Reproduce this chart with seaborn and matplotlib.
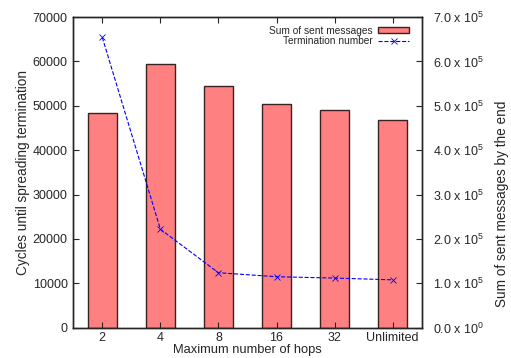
import matplotlib
matplotlib.use('Agg')
import matplotlib.pyplot as plt
import seaborn as sns
import pandas as pd

# Data
hops = ['2', '4', '8', '16', '32', 'Unlimited']
sent_messages = [483000, 594000, 544000, 505000, 490000, 467000]  # right axis
termination = [65400, 22200, 12400, 11500, 11200, 10800]  # left axis

sns.set_style('ticks')
plt.rcParams['font.family'] = ['Liberation Sans', 'DejaVu Sans']
plt.rcParams['mathtext.default'] = 'regular'
plt.rcParams['font.size'] = 9

df = pd.DataFrame({'hops': hops, 'sent': sent_messages, 'term': termination})

fig = plt.figure(figsize=(5.11, 3.58), dpi=100)
ax = fig.add_axes([0.1434, 0.0844, 0.6818, 0.8681])
ax2 = ax.twinx()

# bars on the right axis
sns.barplot(data=df, x='hops', y='sent', ax=ax2, color='#ff8080', saturation=1,
            width=0.5, edgecolor='#3a2222', linewidth=1.0)
ax2.set_ylim(0, 700000)
ax2.set_yticks([i * 100000 for i in range(8)])
ax2.set_yticklabels(['0.0 x 10$^{0}$'] + [f'{i}.0 x 10$^{{5}}$' for i in range(1, 8)])
ax2.set_ylabel('Sum of sent messages by the end', fontsize=9.8, labelpad=8)
ax2.yaxis.label.set_y(0.40)

# line on the left axis, drawn above the bars
ax.set_zorder(ax2.get_zorder() + 1)
ax.patch.set_visible(False)
sns.pointplot(data=df, x='hops', y='term', ax=ax, color='blue', markers='x',
              linestyles='--', linewidth=0.8, markersize=4)
ax.set_ylim(0, 70000)
ax.set_yticks(range(0, 70001, 10000))
ax.set_xlim(-0.5, 5.5)
ax.set_xlabel('Maximum number of hops', fontsize=9.3, labelpad=0)
ax.set_ylabel('Cycles until spreading termination', fontsize=9.8, labelpad=2)

for a in (ax, ax2):
    a.tick_params(direction='in', length=4, width=0.8, labelsize=9)
    for s in a.spines.values():
        s.set_linewidth(1.0)
ax.tick_params(top=True)
ax.tick_params(axis='y', pad=4)
ax.tick_params(axis='x', pad=3)
ax2.tick_params(axis='y', pad=8)

for a in (ax, ax2):
    if a.get_legend() is not None:
        a.get_legend().remove()

handles = [ax2.patches[0], ax.lines[0]]
labels = ['Sum of sent messages', 'Termination number']
ax.legend(handles, labels, loc='upper right', frameon=False, fontsize=7.3,
          markerfirst=False, handlelength=3.0, handleheight=0.55,
          borderaxespad=0.0, labelspacing=0.05, handletextpad=0.6,
          bbox_to_anchor=(0.975, 0.985))

fig.savefig('out.png', dpi=100)
